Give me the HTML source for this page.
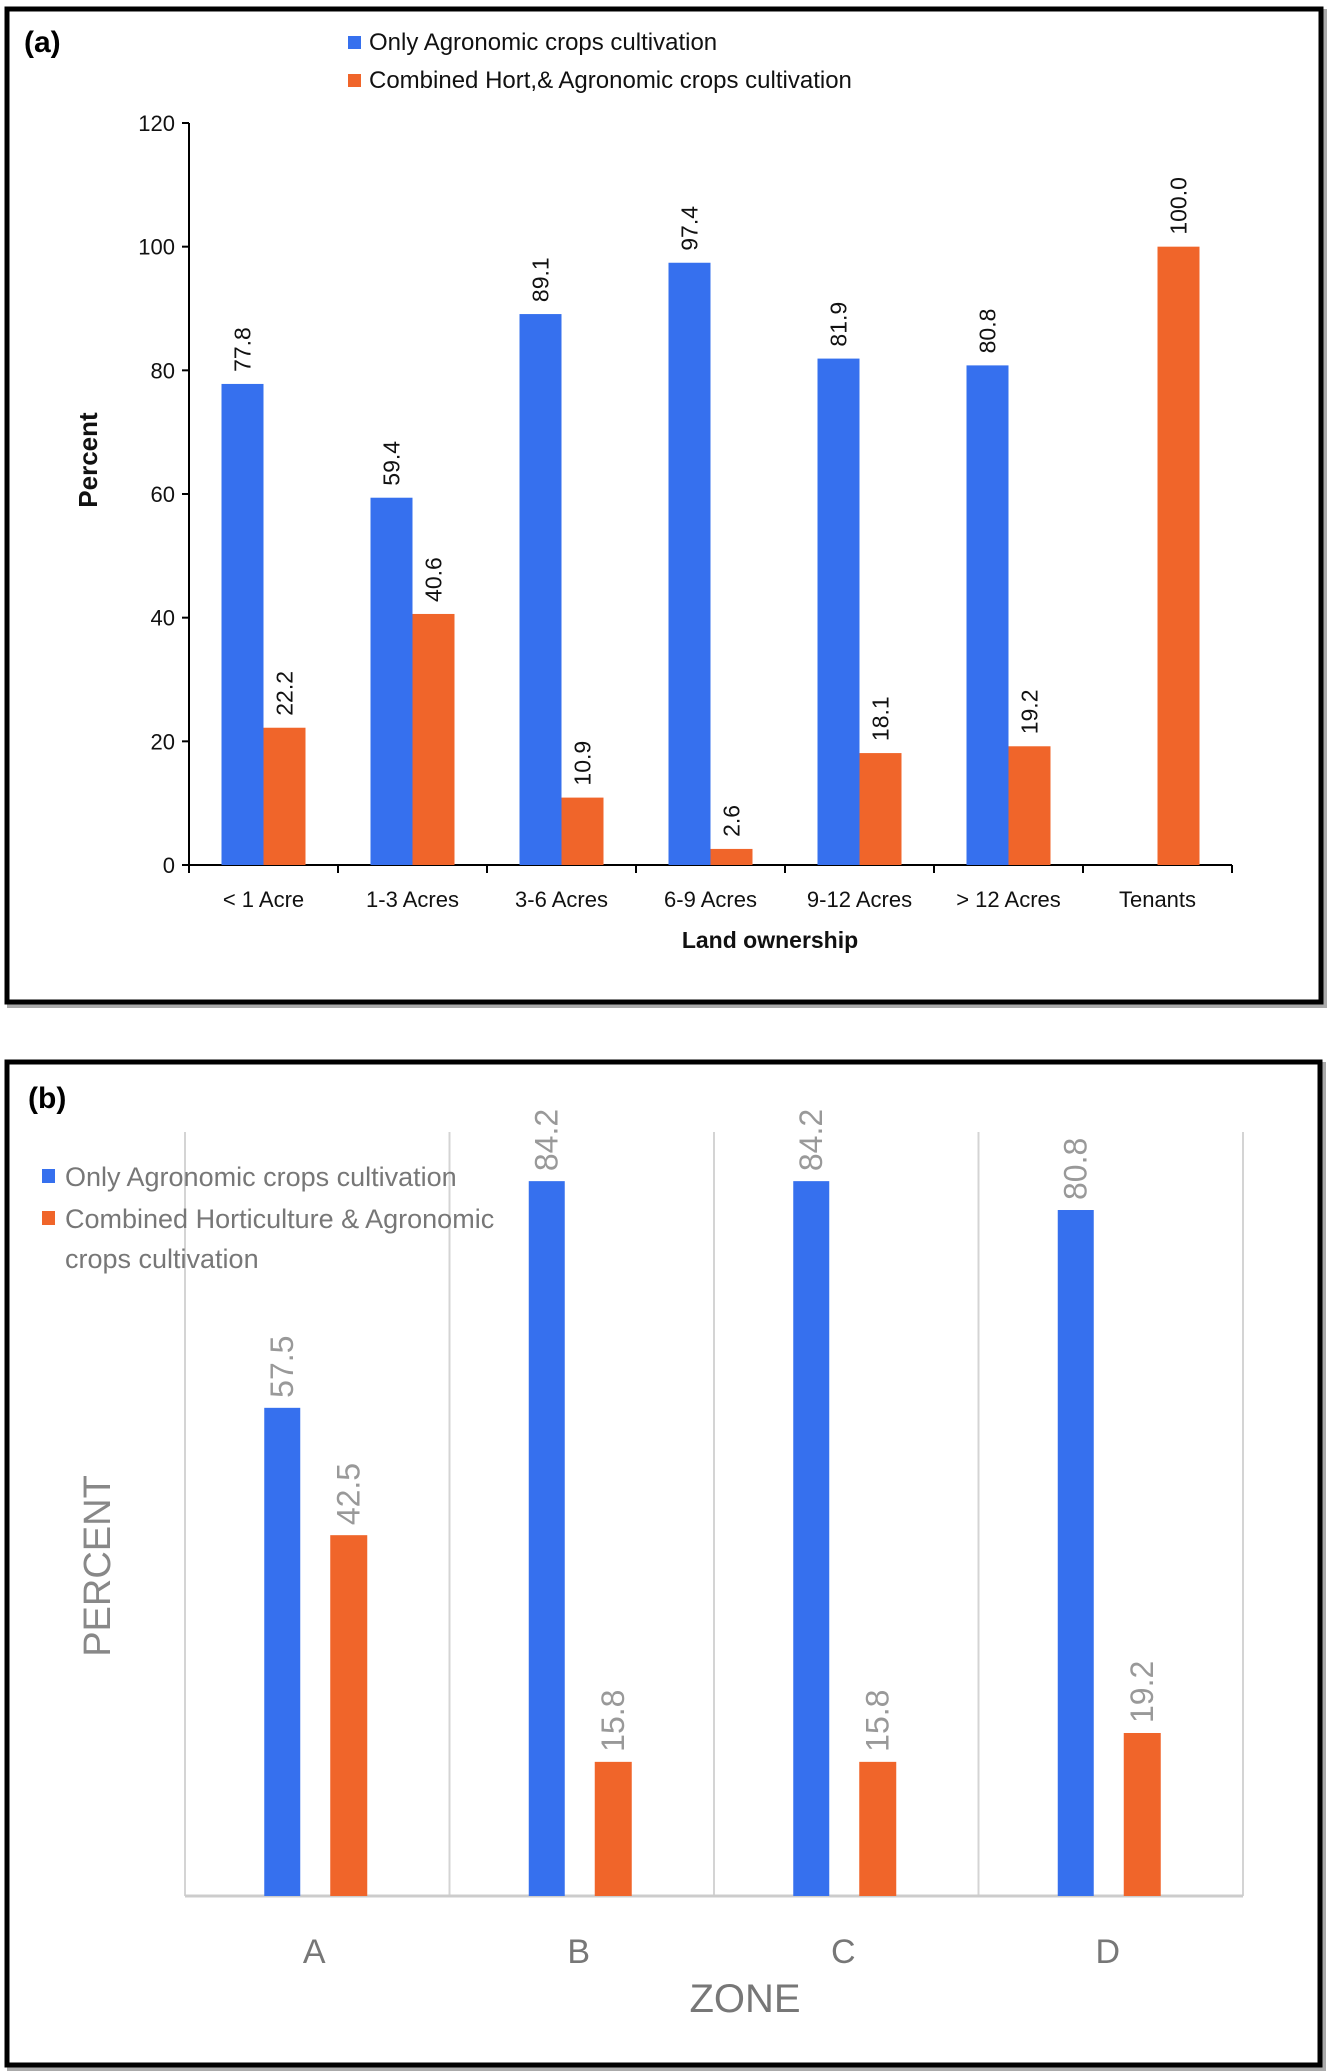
<!DOCTYPE html>
<html><head><meta charset="utf-8">
<style>
html,body{margin:0;padding:0;background:#fff;}
svg{display:block;}
text{font-family:"Liberation Sans",sans-serif;}
</style></head>
<body>
<svg id="fig" width="1342" height="2071" viewBox="0 0 1342 2071" xmlns="http://www.w3.org/2000/svg">
  <rect x="9" y="11" width="1316" height="995" fill="none" stroke="#aaa" stroke-width="4"/>
  <rect x="7" y="9" width="1314" height="993" fill="#fff" stroke="#000" stroke-width="5"/>
  <text x="24" y="52" font-family="Liberation Serif,serif" font-weight="bold" font-size="30">(a)</text>
  <g id="chartA"></g>
  <rect x="9" y="1064" width="1315" height="1005" fill="none" stroke="#aaa" stroke-width="4"/>
  <rect x="7" y="1062" width="1313" height="1003" fill="#fff" stroke="#000" stroke-width="5"/>
  <text x="28" y="1108" font-family="Liberation Serif,serif" font-weight="bold" font-size="30">(b)</text>
  <g id="chartB"></g>
</svg>
<script>
const catsA = ["< 1 Acre","1-3 Acres","3-6 Acres","6-9 Acres","9-12 Acres","> 12 Acres","Tenants"];
const agroA = [77.8,59.4,89.1,97.4,81.9,80.8,null];
const combA = [22.2,40.6,10.9,2.6,18.1,19.2,100.0];
const ticksA = [0,20,40,60,80,100,120];

const catsB = ["A","B","C","D"];
const agroB = [57.5,84.2,84.2,80.8];
const combB = [42.5,15.8,15.8,19.2];

const NS="http://www.w3.org/2000/svg";
const BLUE="#3670EE", ORANGE="#F0652A";
function mk(parent,tag,attrs,txt){
  const e=document.createElementNS(NS,tag);
  for(const k in attrs) e.setAttribute(k,attrs[k]);
  if(txt!==undefined) e.textContent=txt;
  parent.appendChild(e); return e;
}
(function(){
  const g=document.getElementById('chartA');
  const x0=189, x1=1232, y0=865, yTop=123, ymax=120;
  const yS=v=>y0-(v/ymax)*(y0-yTop);
  const cw=(x1-x0)/catsA.length;
  const xC=i=>x0+cw*(i+0.5);
  const bw=42;
  let r=mk(g,'rect',{x:348,y:36,width:13,height:13,fill:BLUE});
  
  
  let t=mk(g,'text',{x:369,y:50,'font-size':24,fill:'#111'},'Only Agronomic crops cultivation');
  
  
  r=mk(g,'rect',{x:348,y:74,width:13,height:13,fill:ORANGE});
  
  
  t=mk(g,'text',{x:369,y:88,'font-size':24,fill:'#111'},'Combined Hort,& Agronomic crops cultivation');
  
  
  let l=mk(g,'line',{x1:x0,y1:yTop,x2:x0,y2:y0,stroke:'#000','stroke-width':2});
  
  
  l=mk(g,'line',{x1:x0,y1:y0,x2:x1,y2:y0,stroke:'#000','stroke-width':2});
  
  
  ticksA.forEach(v=>{
    const tk=mk(g,'line',{x1:x0-7,y1:yS(v),x2:x0,y2:yS(v),stroke:'#000','stroke-width':2});
    
    
    const tl=mk(g,'text',{x:x0-14,y:yS(v)+8,'font-size':22,'text-anchor':'end',fill:'#111'},String(v));
    
    
  });
  for(let i=0;i<=catsA.length;i++){
    const tk=mk(g,'line',{x1:x0+cw*i,y1:y0,x2:x0+cw*i,y2:y0+8,stroke:'#000','stroke-width':2});
    
    
  }
  catsA.forEach((c,i)=>{
    const tl=mk(g,'text',{x:xC(i),y:907,'font-size':22,'text-anchor':'middle',fill:'#111'},c);
    
    
    [[agroA[i],BLUE,-bw,'bar-agronomic'],[combA[i],ORANGE,0,'bar-combined']].forEach(([v,col,off,nm])=>{
      if(v===null) return;
      const b=mk(g,'rect',{x:xC(i)+off,y:yS(v),width:bw,height:y0-yS(v),fill:col});
      
      
      const cx=xC(i)+off+bw/2+8, cy=yS(v)-12;
      const vl=mk(g,'text',{x:cx,y:cy,'font-size':23,fill:'#111',transform:`rotate(-90 ${cx} ${cy})`},v.toFixed(1));
      
      
    });
  });
  t=mk(g,'text',{x:97,y:460,'font-size':26,'font-weight':'bold','text-anchor':'middle',fill:'#111',transform:'rotate(-90 97 460)'},'Percent');
  
  
  t=mk(g,'text',{x:770,y:948,'font-size':23,'font-weight':'bold','text-anchor':'middle',fill:'#111'},'Land ownership');
  
  
})();
(function(){
  const g=document.getElementById('chartB');
  const x0=185, x1=1243, y0=1896, gTop=1132, yPx=8.49;
  const yS=v=>y0-v*yPx;
  const cw=(x1-x0)/catsB.length;
  const xC=i=>x0+cw*(i+0.5);
  for(let i=0;i<=catsB.length;i++){
    const gl=mk(g,'line',{x1:x0+cw*i,y1:gTop,x2:x0+cw*i,y2:y0,stroke:'#d4d4d4','stroke-width':2});
    
    
  }
  let l=mk(g,'line',{x1:x0,y1:y0,x2:x1,y2:y0,stroke:'#ccc','stroke-width':3});
  
  
  catsB.forEach((c,i)=>{
    const tl=mk(g,'text',{x:xC(i)-3,y:1963,'font-size':34,'text-anchor':'middle',fill:'#777'},c);
    
    
    [[agroB[i],BLUE,-53,36,'bar-agronomic'],[combB[i],ORANGE,13,37,'bar-combined']].forEach(([v,col,off,w,nm])=>{
      const b=mk(g,'rect',{x:xC(i)+off,y:yS(v),width:w,height:y0-yS(v),fill:col});
      
      
      const cx=xC(i)+off+w/2+11, cy=yS(v)-10;
      const vl=mk(g,'text',{x:cx,y:cy,'font-size':32,fill:'#999',transform:`rotate(-90 ${cx} ${cy})`},v.toFixed(1));
      
      
    });
  });
  let r=mk(g,'rect',{x:42,y:1169,width:13,height:14,fill:BLUE});
  
  
  let t=mk(g,'text',{x:65,y:1186,'font-size':27,fill:'#777'},'Only Agronomic crops cultivation');
  
  
  r=mk(g,'rect',{x:42,y:1211,width:13,height:14,fill:ORANGE});
  
  
  t=mk(g,'text',{x:65,y:1228,'font-size':27,fill:'#777'},'Combined Horticulture & Agronomic');
  
  
  t=mk(g,'text',{x:65,y:1268,'font-size':27,fill:'#777'},'crops cultivation');
  
  
  t=mk(g,'text',{x:110,y:1566,'font-size':38,'text-anchor':'middle',fill:'#888',transform:'rotate(-90 110 1566)'},'PERCENT');
  
  
  t=mk(g,'text',{x:745,y:2012,'font-size':40,'text-anchor':'middle',fill:'#777'},'ZONE');
  
  
})();
</script>
</body></html>
